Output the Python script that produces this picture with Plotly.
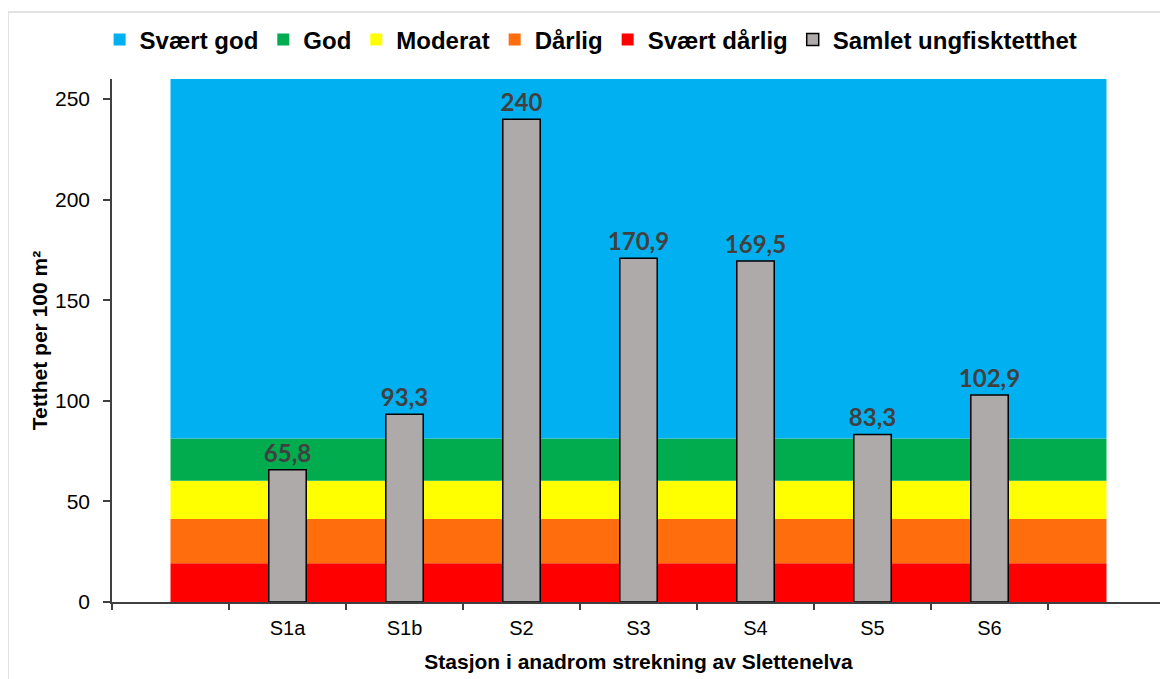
import plotly.graph_objects as go

# Stations and measured juvenile fish density (per 100 m2)
stations = ["S1a", "S1b", "S2", "S3", "S4", "S5", "S6"]
density = [65.8, 93.3, 240, 170.9, 169.5, 83.3, 102.9]

# Classification bands (thickness of each band, bottom to top)
band_names = ["Svært dårlig", "Dårlig", "Moderat", "God", "Svært god"]
band_sizes = [19.3, 22.0, 19.0, 21.0, 178.7]
band_colors = ["#FF0000", "#FF6D0C", "#FFFF00", "#00AC4E", "#00B0F0"]
band_rank = [5, 4, 3, 2, 1]

font_family = "Liberation Sans, Arial, sans-serif"

# x positions: 0 and 8 are empty categories at the ends, stations at 1..7
band_x = list(range(len(stations) + 2))
bar_x = list(range(1, len(stations) + 1))
x_range = [-0.5, len(stations) + 1.5]

fig = go.Figure()

# colour bands as stacked areas (center of first to center of last category)
for name, size, color in zip(band_names, band_sizes, band_colors):
    fig.add_trace(go.Scatter(
        x=band_x,
        y=[size] * len(band_x),
        name=name,
        mode="lines",
        stackgroup="bands",
        line=dict(width=0, color=color),
        fillcolor=color,
        showlegend=False,
        hoverinfo="skip",
    ))

# square legend entries for the bands
for name, color, rank in zip(band_names, band_colors, band_rank):
    fig.add_trace(go.Bar(
        x=[None], y=[None], name=name,
        marker=dict(color=color, line=dict(width=0)),
        legendrank=rank, xaxis="x2",
    ))

labels = [str(v).replace(".", ",") for v in density]

# bars on an overlaid axis so they are drawn above the bands
fig.add_trace(go.Bar(
    x=bar_x,
    y=density,
    name="Samlet ungfisktetthet",
    width=0.32,
    xaxis="x2",
    marker=dict(color="#AEAAAA", line=dict(color="#000000", width=1.5)),
    text=labels,
    textposition="outside",
    constraintext="none",
    cliponaxis=False,
    textfont=dict(family="Lato, sans-serif", size=24, color="#404040", weight="bold"),
    legendrank=6,
))

# page has an 8px body margin, so the figure is sized to fit inside it
fig.update_layout(
    width=1160,
    height=671,
    plot_bgcolor="white",
    paper_bgcolor="white",
    margin=dict(l=104, r=3, t=71, b=77, autoexpand=False),
    font=dict(family=font_family, color="#000000"),
    barmode="overlay",
    showlegend=True,
    legend=dict(
        orientation="h",
        x=0.455, xanchor="center",
        y=(594 - 32) / 523, yanchor="middle",
        font=dict(size=24, family=font_family, weight="bold"),
        traceorder="normal",
        itemwidth=30,
    ),
    xaxis=dict(
        range=x_range,
        tickvals=bar_x,
        ticktext=stations,
        ticks="outside",
        ticklen=7,
        tickcolor="rgba(0,0,0,0)",
        showgrid=False,
        zeroline=False,
        showline=True,
        linecolor="#404040",
        linewidth=1.5,
        automargin=False,
        tickfont=dict(size=20, color="#000000"),
        minor=dict(ticks="outside", tick0=-0.5, dtick=1, ticklen=6,
                   tickcolor="#404040", tickwidth=1.5, showgrid=False),
        title=dict(text="<b>Stasjon i anadrom strekning av Slettenelva</b>",
                   font=dict(size=21), standoff=17),
    ),
    xaxis2=dict(
        range=x_range,
        overlaying="x",
        visible=False,
    ),
    yaxis=dict(
        range=[0, 260],
        tickvals=[0, 50, 100, 150, 200, 250],
        ticks="outside",
        ticklen=7,
        tickcolor="#404040",
        tickwidth=1.5,
        ticklabelstandoff=9,
        showgrid=False,
        zeroline=False,
        showline=True,
        linecolor="#404040",
        linewidth=1.5,
        automargin=False,
        tickfont=dict(size=21, color="#000000"),
        title=dict(text="<b>Tetthet per 100 m²</b>", font=dict(size=21), standoff=2),
    ),
)

# light chart border like the original
plot_w = 1160 - 104 - 3
plot_h = 671 - 71 - 77
fig.add_shape(
    type="rect", xref="paper", yref="paper",
    x0=(0 - 104) / plot_w, x1=(1180 - 104) / plot_w,
    y0=(594 - 700) / plot_h, y1=(594 - 4) / plot_h,
    line=dict(color="#D9D9D9", width=1.5),
    layer="below",
)

fig.write_html("out.html")
